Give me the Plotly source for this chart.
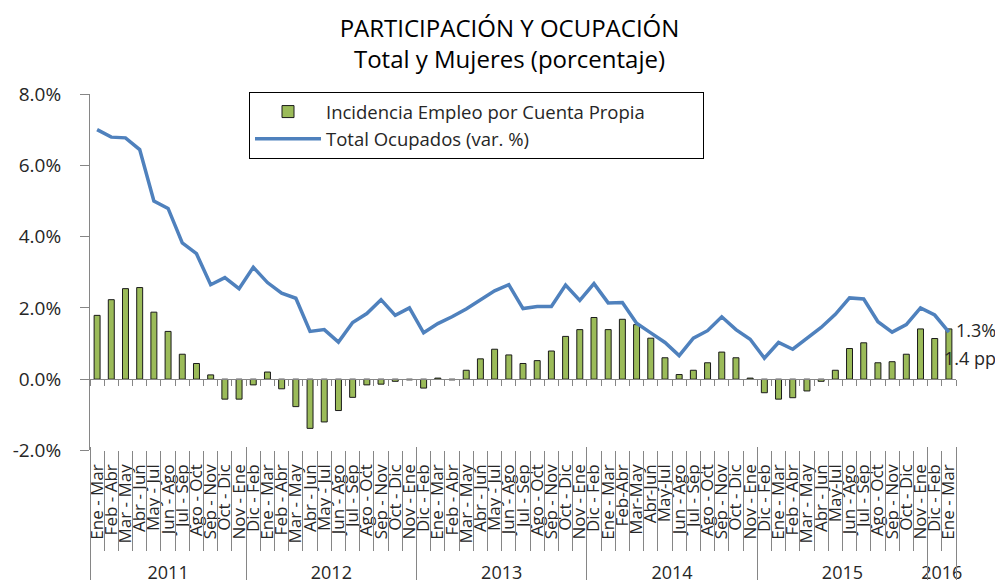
import plotly.graph_objects as go

# ---------------- data ----------------
years_groups = ["2011", "2012", "2013", "2014", "2015", "2016"]

periods_2011 = ["Ene - Mar", "Feb - Abr", "Mar - May", "Abr - Jun", "May - Jul", "Jun - Ago",
                "Jul - Sep", "Ago - Oct", "Sep - Nov", "Oct - Dic", "Nov - Ene"]
periods_2012 = ["Dic - Feb", "Ene - Mar", "Feb - Abr", "Mar - May", "Abr - Jun", "May - Jul",
                "Jun - Ago", "Jul - Sep", "Ago - Oct", "Sep - Nov", "Oct - Dic", "Nov - Ene"]
periods_2013 = ["Dic - Feb", "Ene - Mar", "Feb - Abr", "Mar - May", "Abr - Jun", "May - Jul",
                "Jun - Ago", "Jul - Sep", "Ago - Oct", "Sep - Nov", "Oct - Dic", "Nov - Ene"]
periods_2014 = ["Dic - Feb", "Ene - Mar", "Feb-Abr", "Mar-May", "Abr-Jun", "May-Jul",
                "Jun - Ago", "Jul - Sep", "Ago - Oct", "Sep - Nov", "Oct - Dic", "Nov - Ene"]
periods_2015 = ["Dic - Feb", "Ene - Mar", "Feb - Abr", "Mar - May", "Abr - Jun", "May-Jul",
                "Jun - Ago", "Jul - Sep", "Ago - Oct", "Sep - Nov", "Oct - Dic", "Nov - Ene"]
periods_2016 = ["Dic - Feb", "Ene - Mar"]

incidencia_cuenta_propia = [
    1.79, 2.23, 2.54, 2.57, 1.88, 1.34, 0.70, 0.44, 0.12, -0.56, -0.56,
    -0.16, 0.20, -0.27, -0.77, -1.38, -1.20, -0.88, -0.51, -0.16, -0.14, -0.06, -0.02,
    -0.25, 0.03, -0.02, 0.25, 0.57, 0.84, 0.68, 0.44, 0.52, 0.79, 1.20, 1.39,
    1.73, 1.39, 1.68, 1.53, 1.15, 0.60, 0.13, 0.25, 0.46, 0.76, 0.60, 0.03,
    -0.38, -0.56, -0.52, -0.33, -0.06, 0.25, 0.86, 1.02, 0.46, 0.49, 0.70, 1.41,
    1.14, 1.41,
]

total_ocupados = [
    7.00, 6.79, 6.77, 6.44, 5.00, 4.79, 3.82, 3.52, 2.65, 2.85, 2.54,
    3.14, 2.71, 2.41, 2.27, 1.34, 1.39, 1.04, 1.59, 1.84, 2.23, 1.79, 2.00,
    1.30, 1.56, 1.75, 1.97, 2.23, 2.48, 2.65, 1.98, 2.04, 2.04, 2.64, 2.21,
    2.68, 2.14, 2.15, 1.57, 1.30, 1.03, 0.66, 1.15, 1.36, 1.75, 1.39, 1.12,
    0.59, 1.03, 0.84, 1.14, 1.45, 1.82, 2.28, 2.25, 1.61, 1.32, 1.53, 2.00,
    1.80, 1.32,
]

last_bar_label = "1.4 pp"
last_line_label = "1.3%"

y_ticks = [-2, 0, 2, 4, 6, 8]

# ---------------- derived axis positions ----------------
period_groups = [periods_2011, periods_2012, periods_2013, periods_2014, periods_2015, periods_2016]
inner = [p for plist in period_groups for p in plist]
n = len(inner)
idx = list(range(n))

group_centers, group_bounds = [], [-0.5]
start = 0
for plist in period_groups:
    group_centers.append(start + (len(plist) - 1) / 2)
    start += len(plist)
    group_bounds.append(start - 0.5)
cat_bounds = [-0.5] + [i + 0.5 for i in idx]

FONT = "Open Sans"
TXT = "#262626"
AXC = "#868686"

W, H = 1003, 585
M_L, M_R, M_T = 82, 55, 86
PLOT_BOTTOM_PX = 452
plot_w = W - M_L - M_R
paper_h = H - M_T
y_dom0 = (H - PLOT_BOTTOM_PX) / paper_h
y_min, y_max = y_ticks[0], y_ticks[-1]
zero_pos = y_dom0 + (0 - y_min) / (y_max - y_min) * (1 - y_dom0)

fig = go.Figure()

fig.add_trace(go.Bar(
    x=idx, y=incidencia_cuenta_propia,
    name="Incidencia Empleo por Cuenta Propia",
    marker=dict(color="#9BBB59", line=dict(color="#1a1a1a", width=1)),
    width=0.42,
))
fig.add_trace(go.Scatter(
    x=idx, y=total_ocupados,
    name="Total Ocupados (var. %)",
    mode="lines",
    line=dict(color="#4F81BD", width=3.5),
))
# invisible helper traces so the overlay axes are drawn
for ax in ["x2", "x3", "x4", "x5"]:
    fig.add_trace(go.Scatter(x=idx, y=[None] * n, xaxis=ax, showlegend=False, hoverinfo="skip"))

common_x = dict(range=[-0.5, n - 0.5], showgrid=False, zeroline=False, fixedrange=True)

fig.update_layout(
    width=W, height=H,
    margin=dict(l=M_L, r=M_R, t=M_T, b=0),
    paper_bgcolor="white", plot_bgcolor="rgba(0,0,0,0)",
    font=dict(family=FONT, color=TXT),
    title=dict(
        text="PARTICIPACIÓN Y OCUPACIÓN<br>Total y Mujeres (porcentaje)",
        x=0.5, xanchor="center", y=1 - 29 / H, yanchor="top",
        font=dict(size=24, color="#000000", family=FONT),
    ),
    showlegend=True,
    legend=dict(
        x=(241 - M_L) / plot_w, y=1 + 2 / paper_h, xanchor="left", yanchor="top",
        orientation="h", entrywidth=372,
        bgcolor="white", bordercolor="#000000", borderwidth=1,
        font=dict(size=18.5, color=TXT), traceorder="normal",
        itemwidth=66,
    ),
    xaxis=dict(
        **common_x, anchor="y",
        tickmode="array", tickvals=idx, ticktext=inner, tickangle=-90,
        ticks="outside", ticklen=6, tickcolor="rgba(0,0,0,0)",
        showline=False,
        tickfont=dict(size=17, color=TXT),
    ),
    xaxis2=dict(
        **common_x, overlaying="x", anchor="free", position=zero_pos,
        tickmode="array", tickvals=cat_bounds,
        showticklabels=False,
        showline=True, linecolor=AXC, linewidth=1,
        ticks="outside", ticklen=6, tickcolor=AXC,
    ),
    xaxis3=dict(
        **common_x, overlaying="x", anchor="y",
        tickmode="array", tickvals=cat_bounds,
        showticklabels=False, showline=False,
        ticks="outside", ticklen=100, tickcolor=AXC,
    ),
    xaxis4=dict(
        **common_x, overlaying="x", anchor="free", position=0, side="top",
        tickmode="array", tickvals=group_centers, ticktext=years_groups,
        ticks="", showline=False, ticklabelstandoff=-3,
        tickfont=dict(size=18, color=TXT),
    ),
    xaxis5=dict(
        **common_x, overlaying="x", anchor="free", position=0, side="top",
        tickmode="array", tickvals=group_bounds,
        showticklabels=False, showline=False,
        ticks="outside", ticklen=H - PLOT_BOTTOM_PX, tickcolor=AXC,
    ),
    yaxis=dict(
        domain=[y_dom0, 1],
        range=[y_min, y_max],
        tickmode="array", tickvals=y_ticks, ticktext=[f"{v:.1f}%" for v in y_ticks],
        showgrid=False, zeroline=False, fixedrange=True,
        showline=True, linecolor=AXC, linewidth=1,
        ticks="outside", ticklen=9, tickcolor=AXC,
        ticklabelstandoff=15,
        tickfont=dict(size=19, color=TXT),
    ),
)

fig.add_annotation(
    x=1, xref="paper", y=total_ocupados[-1], yref="y",
    text=last_line_label, showarrow=False, xanchor="left", xshift=-2, yshift=2,
    font=dict(size=18, color=TXT),
)
fig.add_annotation(
    x=1, xref="paper", y=incidencia_cuenta_propia[-1] / 2, yref="y",
    text=last_bar_label, showarrow=False, xanchor="left", xshift=-14, yshift=-4,
    font=dict(size=18, color=TXT),
)

fig.write_html("out.html")
